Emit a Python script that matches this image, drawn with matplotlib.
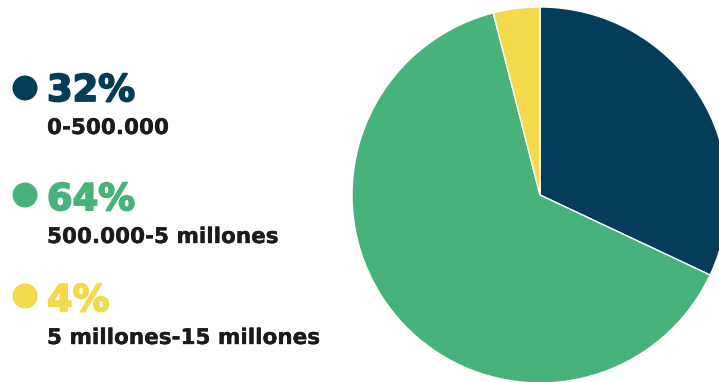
import matplotlib
matplotlib.use("Agg")
import matplotlib.pyplot as plt
from matplotlib.patches import Circle
import matplotlib.patheffects as pe

percents = [32, 64, 4]
pct_labels = ["32%", "64%", "4%"]
ranges = ["0-500.000", "500.000-5 millones", "5 millones-15 millones"]
colors = ["#033D5A", "#48B27B", "#F4DA4B"]
text_dark = "#1B1B1B"

W, H = 719, 382
fig = plt.figure(figsize=(W / 100, H / 100), dpi=100)
ax = fig.add_axes([0, 0, 1, 1])

ax.pie(percents, colors=colors, startangle=90, counterclock=False,
       center=(540, H - 195), radius=188,
       wedgeprops=dict(edgecolor="white", linewidth=1.0))
ax.set_xlim(0, W)
ax.set_ylim(0, H)
ax.set_aspect("equal")
ax.axis("off")

rows_y = [88, 195, 296]          # marker centres (image px)
pct_base = [101, 210, 311]       # baselines of percent text
sub_base = [134, 243, 344]       # baselines of range text
for i in range(3):
    ax.add_patch(Circle((25, H - rows_y[i]), 12.5, color=colors[i], lw=0))
    ax.text(47, H - pct_base[i], pct_labels[i], color=colors[i],
            fontsize=26.5, fontweight="heavy", family=["DejaVu Sans"],
            va="baseline", ha="left",
            path_effects=[pe.withStroke(linewidth=1.3, foreground=colors[i])])
    ax.text(47, H - sub_base[i], ranges[i], color=text_dark,
            fontsize=15.5, fontweight="bold", family=["DejaVu Sans"],
            va="baseline", ha="left",
            path_effects=[pe.withStroke(linewidth=0.25, foreground=text_dark)])

fig.savefig("out.png", dpi=100)
